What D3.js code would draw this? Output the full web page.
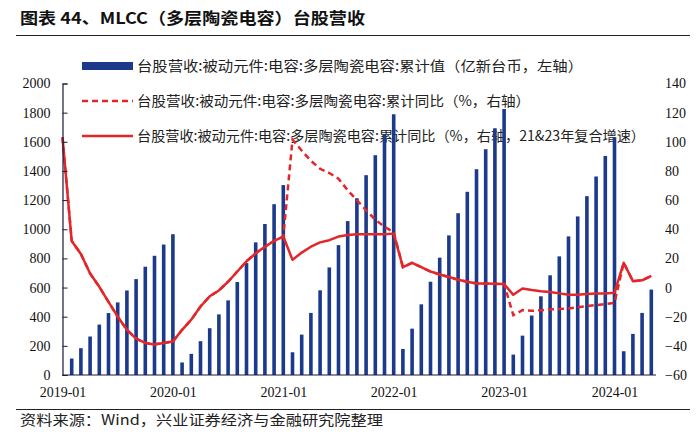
<!DOCTYPE html>
<html><head><meta charset="utf-8">
<script src="https://cdn.jsdelivr.net/npm/d3@7"></script>
<style>
html,body{margin:0;padding:0;background:#fff;}
svg{display:block;}
</style></head>
<body>
<svg id="c" width="700" height="436"></svg>
<script>
// ---- data ----
const months = ["2018-12",
 "2019-01","2019-02","2019-03","2019-04","2019-05","2019-06","2019-07","2019-08","2019-09","2019-10","2019-11","2019-12",
 "2020-01","2020-02","2020-03","2020-04","2020-05","2020-06","2020-07","2020-08","2020-09","2020-10","2020-11","2020-12",
 "2021-01","2021-02","2021-03","2021-04","2021-05","2021-06","2021-07","2021-08","2021-09","2021-10","2021-11","2021-12",
 "2022-01","2022-02","2022-03","2022-04","2022-05","2022-06","2022-07","2022-08","2022-09","2022-10","2022-11","2022-12",
 "2023-01","2023-02","2023-03","2023-04","2023-05","2023-06","2023-07","2023-08","2023-09","2023-10","2023-11","2023-12",
 "2024-01","2024-02","2024-03","2024-04"];
// cumulative revenue (100m TWD, left axis)
const cumValue = [null,
 113,184,264,346,425,498,580,658,743,818,895,966,
 86,145,232,321,416,512,638,768,910,1036,1172,1303,
 156,277,426,581,738,891,1056,1213,1371,1508,1652,1789,
 179,318,485,640,805,958,1110,1257,1412,1549,1693,1825,
 140,270,408,540,684,814,951,1088,1227,1362,1503,1632,
 163,282,426,586];
// cumulative YoY (%, right axis) - dashed
const cumYoY = [103,
 32,23,9.6,0.5,-9.8,-20,-29,-35,-38,-39,-38,-37,
 -29,-22,-13,-6,-2,4,11,18,23.5,28,32,35,
 101.5,94,87,81.5,78.6,74.7,66.7,60,53,46.6,41.6,38,
 14,17,14,11,9,7.2,5.4,4,2.8,2.7,2.6,2.4,
 -19,-15.5,-16,-15.5,-15,-14.8,-14.3,-13.6,-12.7,-12,-11.4,-10.5,
 17,4.4,5,8];
// cumulative YoY with 2021 & 2023 as 2-year CAGR (%, right axis) - solid
const cumYoYCagr = [103,
 32,23,9.6,0.5,-9.8,-20,-29,-35,-38,-39,-38,-37,
 -29,-22,-13,-6,-2,4,11,18,23.5,28,32,35,
 19,24,28,31,32.5,35,36,36.6,36.6,36.6,36.6,37,
 14,17,14,11,9,7.2,5.4,4,2.8,2.7,2.6,2.4,
 -5,-0.6,-1.7,-2.5,-3,-4,-5,-5,-4.5,-4,-4,-3.5,
 17,4.4,5,8];
const tickMonths = ["2018-12","2019-12","2020-12","2021-12","2022-12","2023-12"];
const tickLabels = ["2019-01","2020-01","2021-01","2022-01","2023-01","2024-01"];
const leftTicks = [0,200,400,600,800,1000,1200,1400,1600,1800,2000];
const rightTicks = [-60,-40,-20,0,20,40,60,80,100,120,140];
const legendLabels = [
 "台股营收:被动元件:电容:多层陶瓷电容:累计值（亿新台币，左轴）",
 "台股营收:被动元件:电容:多层陶瓷电容:累计同比（%，右轴）",
 "台股营收:被动元件:电容:多层陶瓷电容:累计同比（%，右轴，21&23年复合增速）"];
const titleText = "图表 44、MLCC（多层陶瓷电容）台股营收";
const sourceText = "资料来源：Wind，兴业证券经济与金融研究院整理";

// ---- drawing ----
const svg = d3.select("#c");
const BLUE = "#1b3a8c", RED = "#e3262a";
const CJK = "'Noto Sans CJK SC','Noto Sans',sans-serif";
const SERIF = "'Liberation Serif','DejaVu Serif',serif";

const x = d3.scalePoint().domain(months).range([62.5, 651.3]);
const yL = d3.scaleLinear().domain([0,2000]).range([375, 83.5]);
const yR = d3.scaleLinear().domain([-60,140]).range([375, 83.5]);

// title
svg.append("text").attr("x",20).attr("y",24).attr("font-family",CJK).attr("font-weight","bold")
  .attr("font-size",16).attr("fill","#111").attr("textLength",345).attr("lengthAdjust","spacingAndGlyphs").text(titleText);
svg.append("line").attr("x1",16).attr("x2",690).attr("y1",35.5).attr("y2",35.5).attr("stroke","#222").attr("stroke-width",1);

// legend
const lg = svg.append("g");
const rowY = [66,101,136];
const lens = [446,393,508];
lg.append("rect").attr("x",82).attr("y",rowY[0]-4).attr("width",51).attr("height",8).attr("fill",BLUE);
lg.append("line").attr("x1",82).attr("x2",133).attr("y1",rowY[1]).attr("y2",rowY[1]).attr("stroke",RED).attr("stroke-width",2.5).attr("stroke-dasharray","6,4");
lg.append("line").attr("x1",82).attr("x2",133).attr("y1",rowY[2]).attr("y2",rowY[2]).attr("stroke",RED).attr("stroke-width",2.5);
legendLabels.forEach((t,i)=>{
  lg.append("text").attr("x",137).attr("y",rowY[i]+5).attr("font-family",CJK).attr("font-size",14)
    .attr("fill","#222").attr("textLength",lens[i]).attr("lengthAdjust","spacingAndGlyphs").text(t);
});

// bars
const barW = 3.6;
svg.append("g").selectAll("rect").data(months.map((m,i)=>({m,v:cumValue[i]})).filter(d=>d.v!=null))
  .join("rect").attr("x",d=>x(d.m)-barW/2).attr("width",barW)
  .attr("y",d=>yL(d.v)).attr("height",d=>yL(0)-yL(d.v)).attr("fill",BLUE);

// lines
const line = d3.line().x(d=>x(d.m)).y(d=>yR(d.v));
svg.append("path").datum(months.map((m,i)=>({m,v:cumYoY[i]})))
  .attr("d",line).attr("fill","none").attr("stroke",RED).attr("stroke-width",2.5).attr("stroke-dasharray","6,4");
svg.append("path").datum(months.map((m,i)=>({m,v:cumYoYCagr[i]})))
  .attr("d",line).attr("fill","none").attr("stroke",RED).attr("stroke-width",2.5).attr("stroke-linejoin","round");

// left axis
const gL = svg.append("g").attr("transform","translate(62.5,0)")
  .call(d3.axisLeft(yL).tickValues(leftTicks).tickSize(-5).tickPadding(12).tickFormat(d3.format("d")));
gL.select(".domain").attr("stroke","#1a1a3a").attr("stroke-width",1.2);
gL.selectAll(".tick line").attr("stroke","#1a1a3a");
gL.selectAll("text").attr("font-family",SERIF).attr("font-size",14).attr("fill","#111");

// right axis
const gR = svg.append("g").attr("transform","translate(665,0)")
  .call(d3.axisRight(yR).tickValues(rightTicks).tickSize(0).tickPadding(0).tickFormat(d3.format("d")));
gR.select(".domain").remove();
gR.selectAll("text").attr("font-family",SERIF).attr("font-size",14).attr("fill","#111");

// bottom axis
const gB = svg.append("g").attr("transform","translate(0,375)")
  .call(d3.axisBottom(x).tickValues(tickMonths).tickSize(0).tickPadding(12)
  .tickFormat(d=>tickLabels[tickMonths.indexOf(d)]));
gB.select(".domain").remove();
gB.selectAll("text").attr("font-family",SERIF).attr("font-size",14).attr("fill","#111");
svg.append("line").attr("x1",62.5).attr("x2",656).attr("y1",375).attr("y2",375).attr("stroke","#1a1a3a").attr("stroke-width",1.2);

// footer
svg.append("line").attr("x1",16).attr("x2",690).attr("y1",409.5).attr("y2",409.5).attr("stroke","#222").attr("stroke-width",1);
svg.append("text").attr("x",20).attr("y",425).attr("font-family",CJK).attr("font-size",14)
  .attr("fill","#222").attr("textLength",363).attr("lengthAdjust","spacingAndGlyphs").text(sourceText);
</script>
</body></html>
